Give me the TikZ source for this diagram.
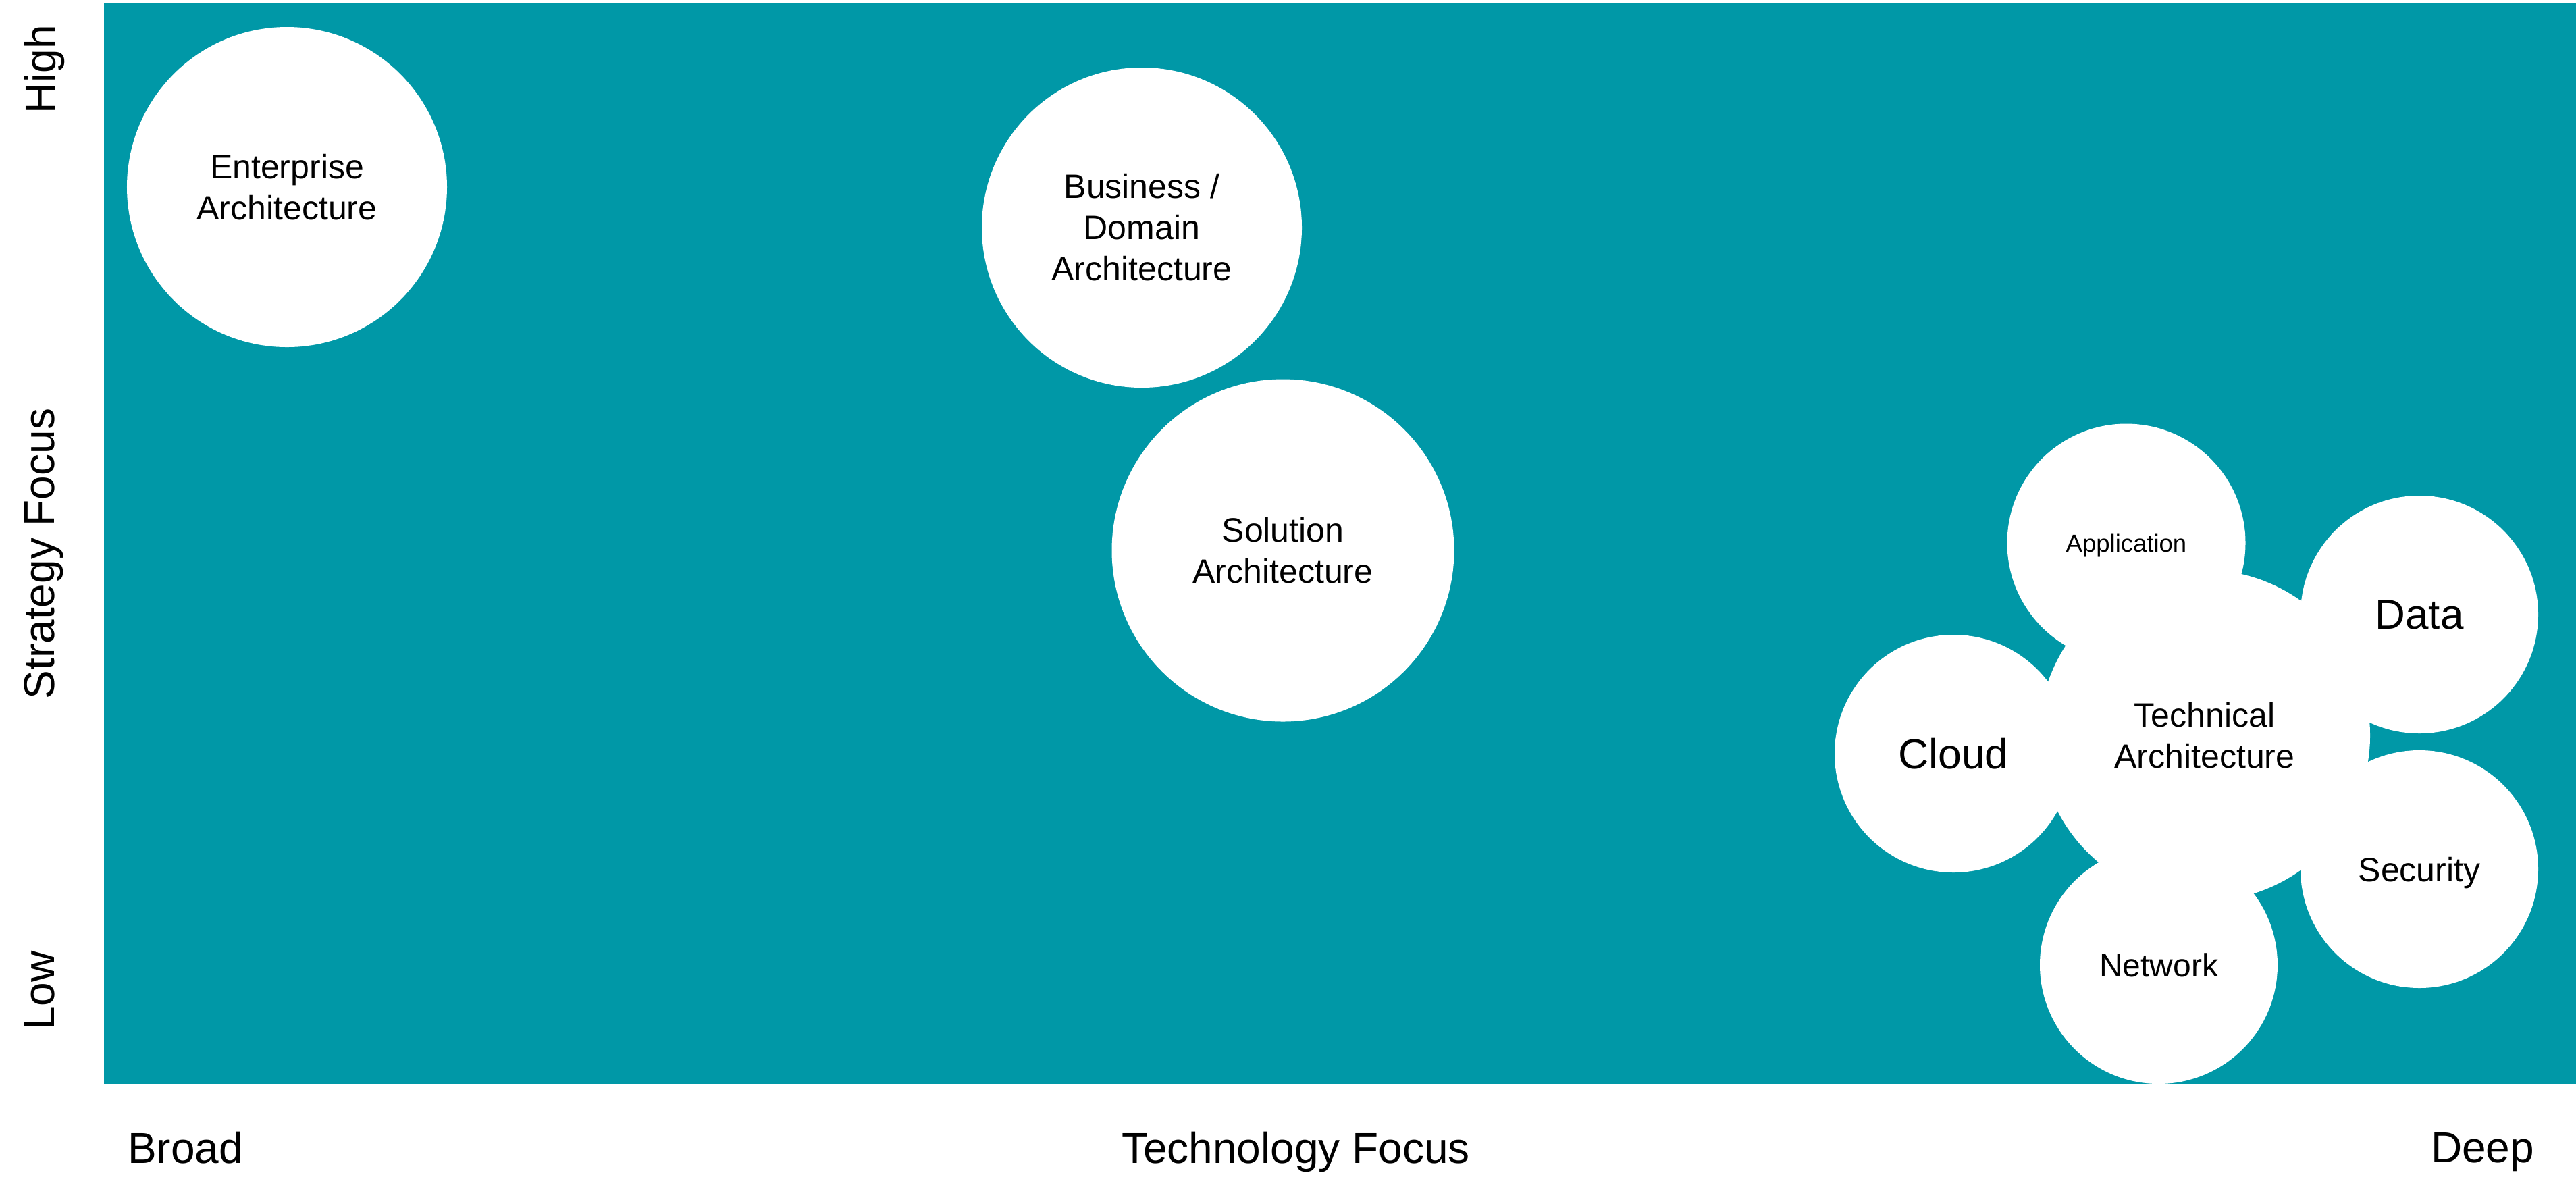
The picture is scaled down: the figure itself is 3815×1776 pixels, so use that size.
\documentclass[tikz,border=0pt]{standalone}
\usepackage{fontspec}
\setmainfont{Liberation Sans}
\definecolor{teal1}{RGB}{0,152,167}
\begin{document}
\begin{tikzpicture}[x=0.2pt,y=-0.2pt,
  bub/.style={circle,fill=white,draw=none,inner sep=0pt,align=center,text=black,
    font=\fontsize{10}{12.2}\selectfont},
  one/.style={text depth=0pt},
  axl/.style={font=\fontsize{12.8}{15}\selectfont,inner sep=0pt,text=black}]
\useasboundingbox (0,0) rectangle (3815,1776);
\fill[teal1] (154,4) rectangle (3815,1605);
% large circles
\node[bub,minimum size=94.8pt] (ent) at (425,277) {Enterprise\\Architecture};
\node[bub,minimum size=94.8pt] (bus) at (1691,337) {Business /\\Domain\\Architecture};
\node[bub,minimum size=101.4pt] (sol) at (1900,815) {Solution\\Architecture};
% cluster
\node[bub,minimum size=98pt] (tech) at (3265,1089) {Technical\\Architecture};
\node[bub,one,minimum size=70.6pt,font=\fontsize{7.3}{9}\selectfont] (app) at (3149,804) {Application};
\node[bub,one,minimum size=70.4pt,font=\fontsize{12.4}{14}\selectfont] (data) at (3583,910) {Data};
\node[bub,one,minimum size=70.4pt,font=\fontsize{12.5}{14}\selectfont] (cloud) at (2893,1116) {Cloud};
\node[bub,one,minimum size=70.4pt] (sec) at (3583,1287) {Security};
\node[bub,one,minimum size=70.4pt,font=\fontsize{9.6}{11}\selectfont] (net) at (3197,1429) {Network};
% axis labels
\node[axl,rotate=90,anchor=base] (high) at (82,103) {High};
\node[axl,rotate=90,anchor=base] (strat) at (81,820) {Strategy Focus};
\node[axl,rotate=90,anchor=base] (low) at (81,1467) {Low};
\node[axl,anchor=base west] (broad) at (188,1722) {Broad};
\node[axl,anchor=base] (tf) at (1919,1722) {Technology Focus};
\node[axl,anchor=base east] (deep) at (3754,1721) {Deep};
\end{tikzpicture}
\end{document}
